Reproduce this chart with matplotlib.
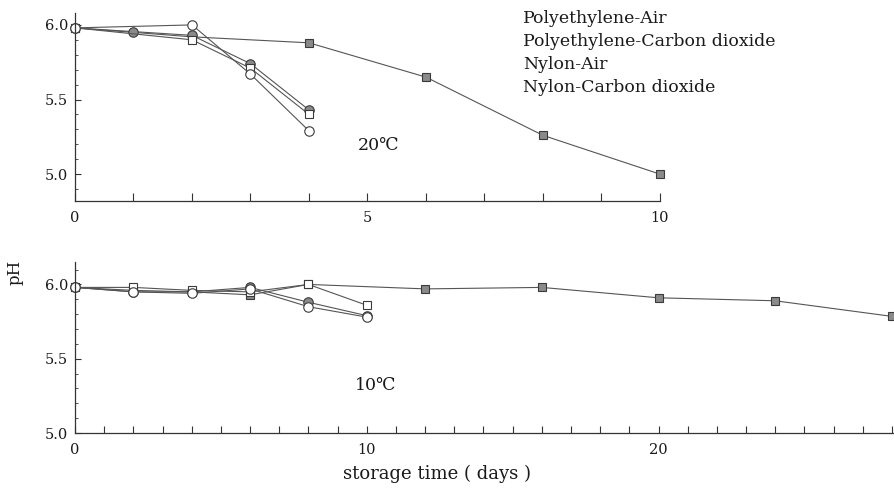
import matplotlib
matplotlib.use('Agg')
import matplotlib.pyplot as plt
from matplotlib.ticker import MultipleLocator

series_names = ['Polyethylene-Air', 'Polyethylene-Carbon dioxide',
                'Nylon-Air', 'Nylon-Carbon dioxide']

# ---- 20 C panel ----
t20_pe_air_days = [0, 2, 3, 4]
t20_pe_air_ph = [5.98, 6.00, 5.67, 5.29]
t20_pe_co2_days = [0, 2, 4, 6, 8, 10]
t20_pe_co2_ph = [5.98, 5.92, 5.88, 5.65, 5.26, 5.00]
t20_ny_air_days = [0, 1, 2, 3, 4]
t20_ny_air_ph = [5.98, 5.955, 5.93, 5.74, 5.43]
t20_ny_co2_days = [0, 2, 3, 4]
t20_ny_co2_ph = [5.98, 5.90, 5.71, 5.40]

# ---- 10 C panel ----
t10_pe_air_days = [0, 2, 4, 6, 8, 10]
t10_pe_air_ph = [5.98, 5.95, 5.94, 5.97, 5.85, 5.78]
t10_pe_co2_days = [0, 2, 4, 6, 8, 12, 16, 20, 24, 28]
t10_pe_co2_ph = [5.98, 5.96, 5.95, 5.93, 6.00, 5.97, 5.98, 5.91, 5.89, 5.785]
t10_ny_air_days = [0, 2, 4, 6, 8, 10]
t10_ny_air_ph = [5.98, 5.95, 5.95, 5.98, 5.88, 5.79]
t10_ny_co2_days = [0, 2, 4, 6, 8, 10]
t10_ny_co2_ph = [5.98, 5.98, 5.96, 5.95, 6.00, 5.86]

SERIF = ['DejaVu Serif', 'DejaVu Sans', 'Noto Sans CJK JP']
plt.rcParams['font.family'] = SERIF
TXT = '#1a1a1a'
LINE = '#555555'
FILL = '#8a8a8a'
EDGE = '#3a3a3a'

fig = plt.figure(figsize=(8.95, 4.91), dpi=100)

styles = [
    ('s', FILL),     # PE-CO2 filled square
    ('o', FILL),     # Nylon-Air filled circle
    ('s', 'white'),  # Nylon-CO2 open square
    ('o', 'white'),  # PE-Air open circle
]


def draw(ax, data):
    for (d, p, name), (mk, fc) in zip(data, styles):
        ms = 6 if mk == 's' else 6.8
        ax.plot(d, p, color=LINE, lw=0.8, marker=mk, ms=ms,
                mfc=fc, mec=EDGE, mew=0.8, label=name, clip_on=False)


def style_axes(ax):
    for s in ('top', 'right'):
        ax.spines[s].set_visible(False)
    for s in ('left', 'bottom'):
        ax.spines[s].set_color('#333333')
        ax.spines[s].set_linewidth(0.9)
    ax.tick_params(axis='both', which='both', direction='in', colors='#333333',
                   labelcolor=TXT, labelsize=10.5)
    ax.tick_params(axis='x', which='major', length=6, pad=7)
    ax.tick_params(axis='y', which='major', length=4, pad=5)
    ax.tick_params(axis='y', which='minor', length=2.5)
    ax.yaxis.set_major_locator(MultipleLocator(0.5))
    ax.yaxis.set_minor_locator(MultipleLocator(0.1))
    ax.yaxis.set_major_formatter(plt.FuncFormatter(lambda v, p: f'{v:.1f}'))


# top panel (20 C)
ax1 = fig.add_axes([0.0838, 0.5906, 0.6536, 0.383])
draw(ax1, [(t20_pe_co2_days, t20_pe_co2_ph, series_names[1]),
           (t20_ny_air_days, t20_ny_air_ph, series_names[2]),
           (t20_ny_co2_days, t20_ny_co2_ph, series_names[3]),
           (t20_pe_air_days, t20_pe_air_ph, series_names[0])])
ax1.set_xlim(0, 10)
ax1.set_ylim(4.82, 6.08)
style_axes(ax1)
ax1.set_xticks(range(0, 11))
ax1.set_xticklabels([str(i) if i % 5 == 0 else '' for i in range(0, 11)])
ax1.text(4.84, 5.19, '20℃', fontsize=12.5, color=TXT, va='center', ha='left',
         family=SERIF)

# bottom panel (10 C)
ax2 = fig.add_axes([0.0838, 0.1181, 0.916, 0.348])
draw(ax2, [(t10_pe_co2_days, t10_pe_co2_ph, series_names[1]),
           (t10_ny_air_days, t10_ny_air_ph, series_names[2]),
           (t10_ny_co2_days, t10_ny_co2_ph, series_names[3]),
           (t10_pe_air_days, t10_pe_air_ph, series_names[0])])
ax2.set_xlim(0, 28.1)
ax2.set_ylim(5.0, 6.15)
style_axes(ax2)
ax2.tick_params(axis='x', which='major', length=5)
ax2.set_xticks(range(0, 29))
ax2.set_xticklabels([str(i) if i % 10 == 0 else '' for i in range(0, 29)])
ax2.text(9.6, 5.32, '10℃', fontsize=12.5, color=TXT, va='center', ha='left',
         family=SERIF)

# legend (text only, as in the reference)
leg_baselines = [23, 46, 69, 92]
for name, yp in zip(series_names, leg_baselines):
    fig.text(523 / 895, 1 - yp / 491, name, fontsize=12.5, color=TXT,
             va='baseline', ha='left', family=SERIF)

fig.text(15 / 895, 1 - 272 / 491, 'pH', rotation=90, fontsize=12, color=TXT,
         va='center', ha='center', family=SERIF)
fig.text(437 / 895, 1 - 474 / 491, 'storage time ( days )', fontsize=13,
         color=TXT, va='center', ha='center', family=SERIF)

fig.savefig('out.png', dpi=100, facecolor='white')
